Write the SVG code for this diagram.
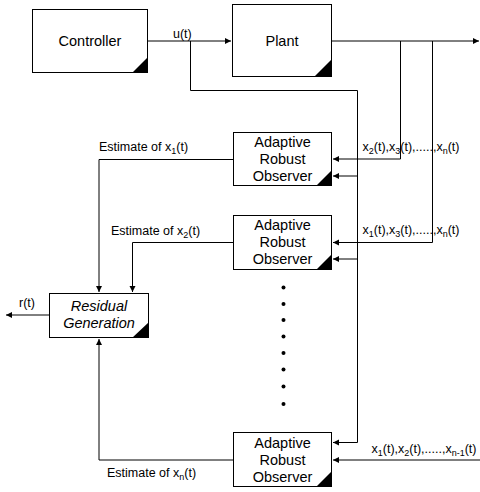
<svg xmlns="http://www.w3.org/2000/svg" width="480" height="492" viewBox="0 0 480 492">
<defs>
<marker id="ah" markerWidth="8" markerHeight="8" refX="7" refY="4" orient="auto" markerUnits="userSpaceOnUse">
<path d="M1,1 L7,4 L1,7 Z" fill="#000"/>
</marker>
<style>
.box{fill:#fff;stroke:#000;stroke-width:1}
.tri{fill:#000}
.nt{font-family:"Liberation Sans",Arial,sans-serif;font-size:14.5px;fill:#000;text-anchor:middle}
.it{font-style:italic}
.lb{font-family:"Liberation Sans",Arial,sans-serif;font-size:12.5px;fill:#000}
.sub{font-size:9px}
.cn{fill:none;stroke:#000;stroke-width:1}
.dot{fill:#000}
</style>
</defs>
<rect width="480" height="492" fill="#fff"/>

<g id="connectors">
<path class="cn" d="M148,41 H231" marker-end="url(#ah)"/>
<path class="cn" d="M332,41 H479" marker-end="url(#ah)"/>
<path class="cn" d="M190.5,41 V90.5 H357.5 V442.5 H333" marker-end="url(#ah)"/>
<path class="cn" d="M357.5,176 H333" marker-end="url(#ah)"/>
<path class="cn" d="M357.5,259 H333" marker-end="url(#ah)"/>
<path class="cn" d="M400.5,41 V159 H333" marker-end="url(#ah)"/>
<path class="cn" d="M432.5,41 V242.5 H333" marker-end="url(#ah)"/>
<path class="cn" d="M480,460 H333" marker-end="url(#ah)"/>
<path class="cn" d="M233,159.5 H99 V292" marker-end="url(#ah)"/>
<path class="cn" d="M233,242.5 H132.5 V292" marker-end="url(#ah)"/>
<path class="cn" d="M233,460 H99 V339" marker-end="url(#ah)"/>
<path class="cn" d="M49,315 H6" marker-end="url(#ah)"/>
<text class="lb" x="173" y="38">u(t)</text>
<text class="lb" x="19" y="307">r(t)</text>
<text class="lb" x="99" y="151">Estimate of x<tspan class="sub" dy="3">1</tspan><tspan dy="-3">(t)</tspan></text>
<text class="lb" x="111" y="235">Estimate of x<tspan class="sub" dy="3">2</tspan><tspan dy="-3">(t)</tspan></text>
<text class="lb" x="107" y="477">Estimate of x<tspan class="sub" dy="3">n</tspan><tspan dy="-3">(t)</tspan></text>
<text class="lb" x="362.5" y="150.5">x<tspan class="sub" dy="3">2</tspan><tspan dy="-3">(t),x</tspan><tspan class="sub" dy="3">3</tspan><tspan dy="-3">(t),.....,x</tspan><tspan class="sub" dy="3">n</tspan><tspan dy="-3">(t)</tspan></text>
<text class="lb" x="362.5" y="233.5">x<tspan class="sub" dy="3">1</tspan><tspan dy="-3">(t),x</tspan><tspan class="sub" dy="3">3</tspan><tspan dy="-3">(t),.....,x</tspan><tspan class="sub" dy="3">n</tspan><tspan dy="-3">(t)</tspan></text>
<text class="lb" x="371.5" y="453">x<tspan class="sub" dy="3">1</tspan><tspan dy="-3">(t),x</tspan><tspan class="sub" dy="3">2</tspan><tspan dy="-3">(t),.....,x</tspan><tspan class="sub" dy="3">n-1</tspan><tspan dy="-3">(t)</tspan></text>
</g>

<g id="controller">
<rect class="box" x="32.5" y="9.5" width="115" height="63"/>
<path class="tri" d="M132,73 H148 V57 Z"/>
<text class="nt" x="90" y="46">Controller</text>
</g>

<g id="plant">
<rect class="box" x="232.5" y="4.5" width="99" height="72"/>
<path class="tri" d="M314,77 H332 V59 Z"/>
<text class="nt" x="282" y="46">Plant</text>
</g>

<g id="observer1">
<rect class="box" x="233.5" y="132.5" width="98" height="53"/>
<path class="tri" d="M316,186 H332 V170 Z"/>
<text class="nt" x="282.5" y="147">Adaptive</text>
<text class="nt" x="282.5" y="164">Robust</text>
<text class="nt" x="282.5" y="181">Observer</text>
</g>

<g id="observer2">
<rect class="box" x="233.5" y="215.5" width="98" height="54"/>
<path class="tri" d="M316,270 H332 V254 Z"/>
<text class="nt" x="282.5" y="230">Adaptive</text>
<text class="nt" x="282.5" y="247">Robust</text>
<text class="nt" x="282.5" y="264">Observer</text>
</g>

<g id="observer3">
<rect class="box" x="233.5" y="432.5" width="98" height="54"/>
<path class="tri" d="M316,487 H332 V471 Z"/>
<text class="nt" x="282.5" y="448">Adaptive</text>
<text class="nt" x="282.5" y="465">Robust</text>
<text class="nt" x="282.5" y="482">Observer</text>
</g>

<g id="residual">
<rect class="box" x="49.5" y="293.5" width="99" height="44"/>
<path class="tri" d="M132,338 H149 V322 Z"/>
<text class="nt it" x="99" y="311">Residual</text>
<text class="nt it" x="99" y="328">Generation</text>
</g>

<g id="dots">
<circle class="dot" cx="283.5" cy="287.5" r="2"/>
<circle class="dot" cx="283.5" cy="304" r="2"/>
<circle class="dot" cx="283.5" cy="320" r="2"/>
<circle class="dot" cx="283.5" cy="336.5" r="2"/>
<circle class="dot" cx="283.5" cy="353" r="2"/>
<circle class="dot" cx="283.5" cy="369.5" r="2"/>
<circle class="dot" cx="283.5" cy="386.5" r="2"/>
<circle class="dot" cx="283.5" cy="404" r="2"/>
</g>
</svg>
